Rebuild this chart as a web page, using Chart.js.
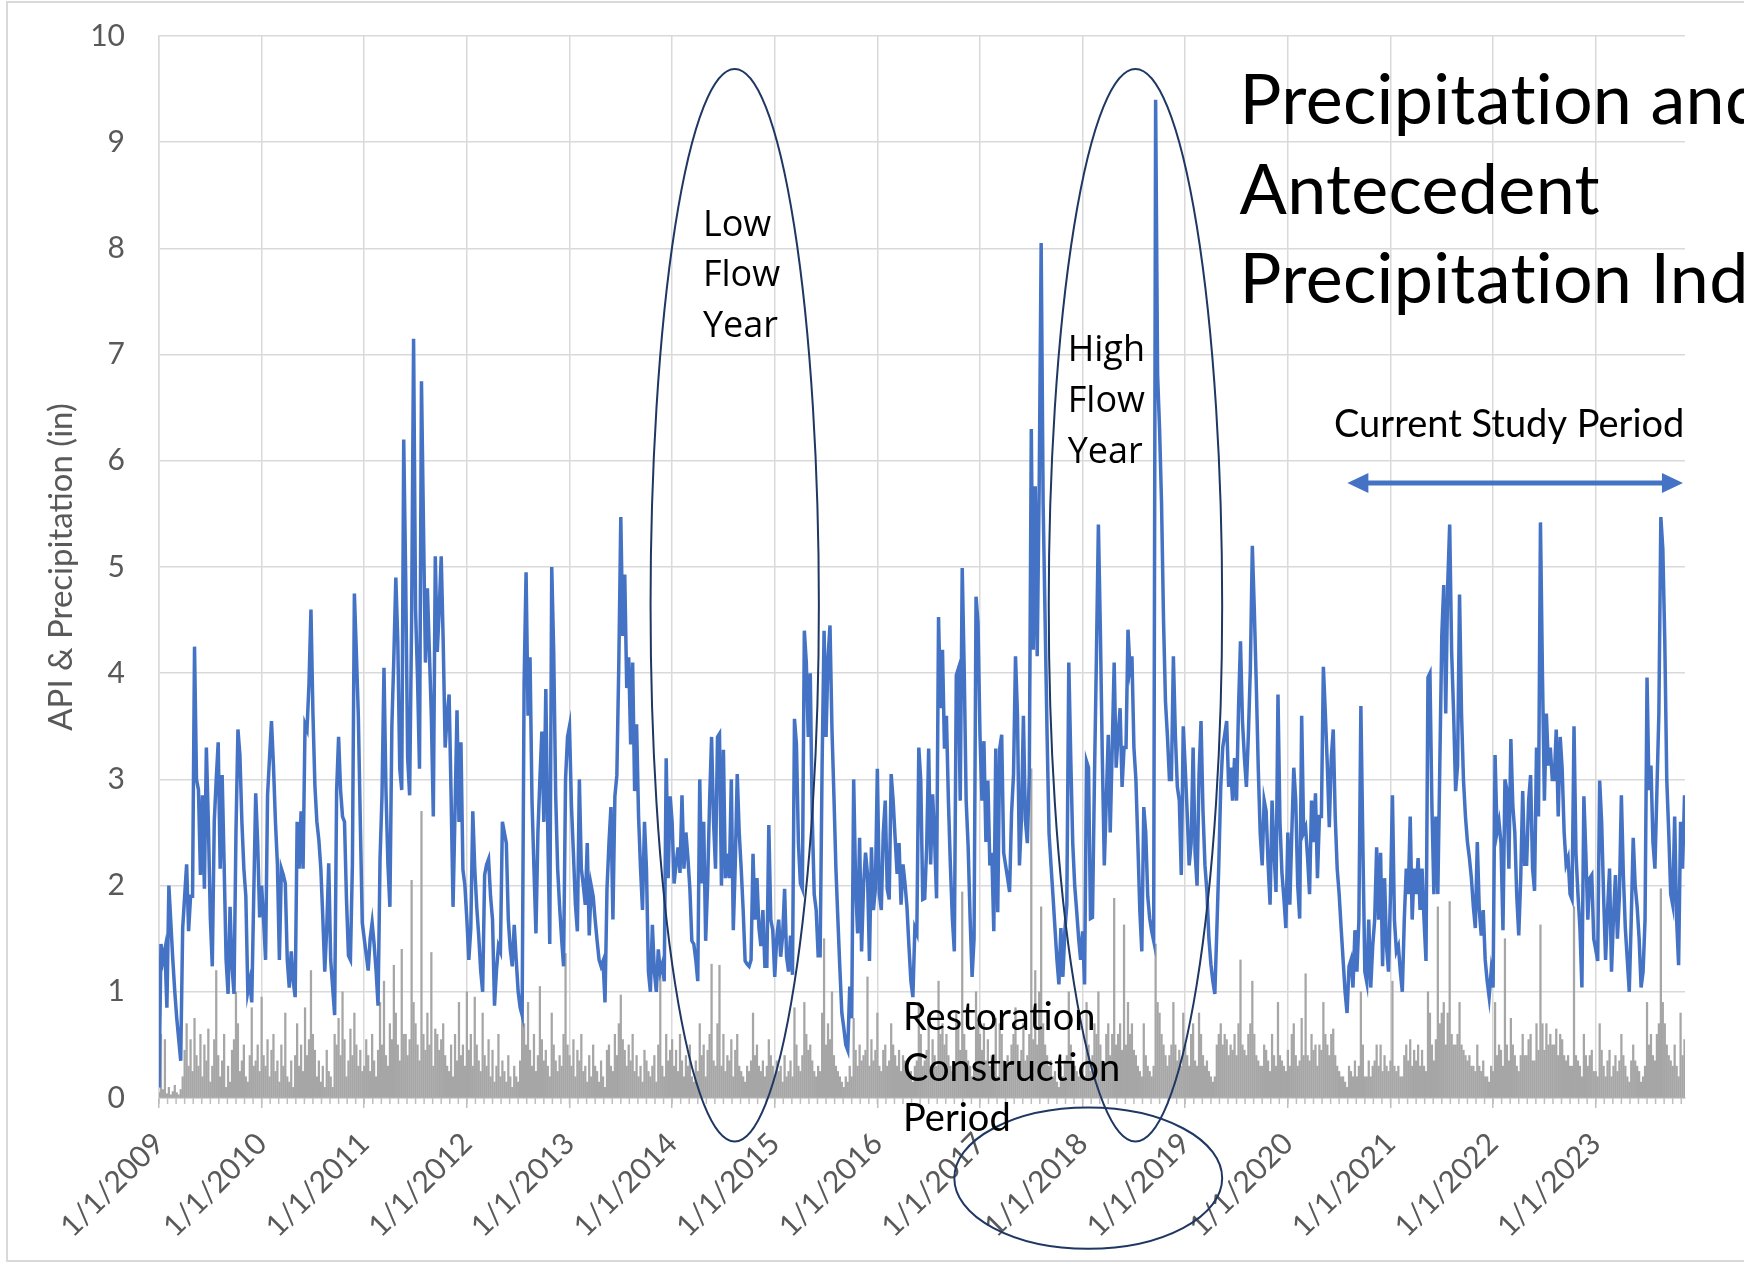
<!DOCTYPE html>
<html lang="en">
  <head>
    <meta charset="UTF-8" />
    <title>Precipitation and Antecedent Precipitation Index</title>
    <script src="https://cdn.jsdelivr.net/npm/chart.js"></script>
    <style>
      html,
      body {
        margin: 0;
        padding: 0;
        background: #fff;
      }
      #apiChart {
        display: block;
      }
    </style>
  </head>

  <body>
    <canvas id="apiChart" width="1744" height="1264"></canvas>

    <script>
      // Weekly values (52 per year, 2023 stops in November)
      const years = [2009, 2010, 2011, 2012, 2013, 2014, 2015, 2016, 2017, 2018, 2019, 2020, 2021, 2022, 2023];
      const yTicks = [0, 1, 2, 3, 4, 5, 6, 7, 8, 9, 10];

      // API (in)
      const api2009 = [0.1,1.45,1.3,1.4,0.85,2.0,1.65,1.3,1.0,0.75,0.55,0.35,1.6,1.9,2.2,1.57,1.9,1.9,4.25,3.0,2.9,2.1,2.85,1.97,3.3,2.6,1.7,1.24,2.6,3.0,3.35,2.16,3.04,2.2,1.3,0.98,1.8,1.24,0.98,2.5,3.47,3.23,2.6,2.16,1.9,1.0,1.1,0.9,1.9,2.87,2.4,1.7];
      const api2010 = [2.0,1.68,1.3,2.85,3.2,3.55,3.13,2.6,2.2,1.3,2.16,2.1,2.02,1.3,1.04,1.38,1.1,0.95,2.6,2.16,2.7,2.16,3.52,3.47,3.9,4.6,3.62,2.94,2.6,2.43,2.16,1.7,1.19,1.6,2.21,1.3,1.04,0.78,2.89,3.4,2.9,2.65,2.6,1.87,1.34,1.3,2.2,4.75,4.2,3.6,2.6,1.65];
      const api2011 = [1.5,1.35,1.2,1.5,1.65,1.45,1.2,0.87,2.25,2.85,4.05,2.9,2.2,1.8,3.5,4.15,4.9,4.3,3.1,2.9,6.2,4.9,3.2,2.85,4.5,7.15,4.6,3.95,3.1,6.75,5.4,4.1,4.8,4.2,3.6,2.65,5.1,4.2,4.6,5.1,4.3,3.3,3.6,3.8,2.85,1.8,2.7,3.65,2.6,3.35,2.15,2.0];
      const api2012 = [1.68,1.3,1.6,2.7,2.16,1.8,1.53,1.2,1.0,2.1,2.2,2.25,1.9,1.68,0.87,1.2,1.43,1.38,2.6,2.5,2.4,1.68,1.4,1.24,1.63,1.3,1.0,0.85,0.78,3.9,4.95,3.6,4.15,2.8,2.16,1.55,2.5,3.0,3.45,2.6,3.85,2.5,1.45,5.0,4.2,2.85,2.16,1.8,1.5,1.24,3.0,3.4];
      const api2013 = [3.5,2.75,2.3,1.82,1.57,3.0,2.16,2.0,1.82,2.4,1.53,2.0,1.9,1.68,1.48,1.3,1.24,1.29,0.9,1.97,2.4,2.74,1.68,2.84,3.04,4.1,5.47,4.35,4.93,3.86,4.15,3.33,4.1,2.89,3.52,2.65,2.16,1.77,2.6,2.16,1.19,1.0,1.63,1.19,1.0,1.4,1.19,1.26,1.1,3.2,2.07,2.84];
      const api2014 = [2.6,2.02,2.2,2.36,2.12,2.85,2.16,2.5,2.26,1.97,1.48,1.45,1.3,1.1,3.0,2.02,2.6,1.48,2.02,2.8,3.4,2.6,2.16,3.4,3.43,2.0,3.28,2.07,2.3,2.07,3.0,1.58,2.2,3.05,2.5,2.16,1.77,1.29,1.26,1.24,1.3,2.3,1.68,2.07,1.6,1.43,1.77,1.24,1.24,2.57,1.68,1.58];
      const api2015 = [1.14,1.5,1.68,1.33,1.53,1.97,1.33,1.19,1.53,1.16,3.57,3.33,2.4,2.02,1.97,4.4,4.1,3.4,4.0,2.65,1.92,1.77,1.34,1.34,3.13,4.4,3.4,4.15,4.45,3.47,2.84,2.16,1.68,1.22,0.8,0.66,0.5,0.45,1.05,0.75,3.0,2.0,1.55,2.45,1.38,2.0,2.31,2.11,1.29,2.36,1.77,1.97];
      const api2016 = [3.1,1.92,1.77,2.5,2.8,1.97,1.87,3.05,2.8,2.45,2.11,2.4,1.82,2.2,2.02,1.8,1.43,1.1,0.95,1.6,1.55,3.3,2.99,1.87,1.88,2.37,3.29,2.2,2.86,2.44,1.88,4.53,3.67,4.22,3.29,3.6,2.8,2.19,1.69,1.38,3.98,4.04,2.8,4.99,4.04,2.8,2.37,1.69,1.14,1.5,4.72,4.47];
      const api2017 = [3.42,2.8,3.36,2.41,2.99,2.19,2.31,1.57,3.29,1.75,3.29,3.42,2.31,2.19,2.07,1.94,2.68,3.05,4.16,3.6,2.19,2.62,3.6,2.62,2.4,3.05,6.3,4.22,5.76,4.16,5.76,8.05,5.6,4.5,3.42,2.49,2.19,1.9,1.6,1.3,1.07,1.6,1.14,1.57,1.82,4.1,3.2,2.4,2.0,1.76,1.5,1.3];
      const api2018 = [1.57,1.07,3.17,3.11,1.69,1.7,3.0,4.16,5.4,4.4,3.2,2.19,2.8,3.42,2.5,3.29,4.1,3.11,3.42,3.67,2.93,3.3,3.3,4.41,4.04,4.16,3.3,3.0,2.4,1.76,1.38,2.74,2.5,1.9,1.69,1.57,1.48,9.4,6.81,6.3,5.6,4.5,3.73,3.4,3.0,3.0,4.16,3.42,2.93,2.8,2.1,3.5];
      const api2019 = [3.11,2.68,2.19,2.4,3.3,2.31,2.0,3.05,3.55,2.7,2.19,1.94,1.5,1.26,1.1,0.98,1.57,2.19,2.93,3.3,3.42,3.55,2.93,3.11,2.8,3.2,2.8,3.67,4.3,3.55,3.2,2.93,3.42,4.04,5.2,4.6,3.9,3.11,2.49,2.19,2.8,2.7,2.2,1.82,2.8,2.31,1.94,3.8,2.6,2.12,1.88,1.6];
      const api2020 = [2.5,1.82,2.49,3.11,2.8,2.0,1.69,3.6,2.5,2.55,2.26,1.92,2.8,2.41,2.87,2.07,2.65,2.65,4.06,3.62,3.13,2.55,3.2,3.47,2.65,2.16,1.92,1.6,1.3,1.0,0.8,1.24,1.3,1.04,1.58,1.19,1.68,3.69,2.4,1.19,1.09,1.68,1.04,1.43,1.68,2.36,1.68,2.31,1.24,2.07,1.43,1.19];
      const api2021 = [1.92,2.85,1.68,1.38,1.43,1.19,1.0,1.68,2.16,1.92,2.65,1.68,2.16,1.92,2.26,1.77,2.16,1.68,1.29,3.96,4.0,2.75,1.92,2.65,1.92,3.13,4.35,4.83,3.62,4.83,5.4,4.2,3.62,2.89,3.13,4.74,3.62,2.99,2.65,2.41,2.26,2.07,1.8,1.6,2.41,1.77,1.53,1.77,1.3,1.1,0.95,1.19];
      const api2022 = [1.04,3.23,2.5,2.6,2.4,1.58,3.0,2.9,2.16,3.38,2.75,2.5,1.9,1.53,2.07,2.89,2.2,2.2,2.8,3.04,2.16,1.95,3.3,2.65,5.42,4.0,2.8,3.62,3.13,3.3,3.0,3.0,3.47,2.65,3.4,3.1,2.5,2.2,2.26,1.92,1.87,3.5,2.3,1.92,1.6,1.04,2.84,2.3,1.68,2.07,2.1,1.5];
      const api2023 = [1.4,1.29,2.99,2.6,1.9,1.3,1.77,2.16,1.19,1.7,2.1,1.5,1.9,2.85,2.1,1.6,1.3,1.0,1.68,2.45,2.0,1.8,1.5,1.04,1.19,1.68,3.96,2.9,3.13,2.41,2.16,2.89,3.62,5.47,5.17,4.3,3.0,2.5,1.92,1.82,2.65,1.68,1.25,2.6,2.16,2.85];

      // Precipitation (in)
      const rain2009 = [0.05,0.6,0.08,0.55,0.04,0.1,0.03,0.06,0.12,0.05,0.03,0.08,0.2,0.45,0.7,0.3,0.55,0.25,0.75,0.4,0.3,0.6,0.2,0.5,0.35,0.65,0.15,0.3,0.55,1.2,0.4,0.2,0.35,0.6,0.1,0.3,0.15,0.45,0.55,1.0,0.7,0.25,0.35,0.5,0.2,0.15,0.4,0.85,0.3,0.35,0.5,0.25];
      const rain2010 = [0.95,0.4,0.3,0.55,0.2,0.45,0.6,0.25,0.35,0.15,0.5,0.3,0.8,0.2,0.15,0.35,0.1,0.4,0.7,0.3,0.5,0.25,0.85,0.4,0.55,1.2,0.6,0.45,0.2,0.35,0.15,0.3,0.1,0.45,0.25,0.2,0.1,0.6,0.5,0.75,0.4,1.0,0.55,0.2,0.35,0.65,0.4,0.8,0.5,0.3,0.45,0.25];
      const rain2011 = [0.3,0.55,0.4,0.25,0.6,0.35,0.2,0.45,0.9,0.5,1.1,0.4,0.3,0.7,0.55,1.25,0.8,0.5,0.35,1.4,0.6,0.6,0.4,0.55,2.05,0.9,0.7,0.5,0.35,2.7,0.6,0.45,0.8,0.5,1.37,0.3,0.65,0.6,0.45,0.55,0.7,0.4,0.3,0.25,0.5,0.2,0.6,0.35,0.9,0.4,0.5,0.3];
      const rain2012 = [1.0,0.45,0.6,0.3,0.95,0.5,0.35,0.25,0.8,0.4,0.3,0.55,0.2,0.45,0.15,0.3,0.6,0.2,0.35,0.25,0.15,0.4,0.2,0.1,0.3,0.2,0.15,0.35,1.0,0.7,0.5,0.9,0.45,0.3,0.6,0.25,0.4,1.05,0.55,0.35,0.45,0.3,0.2,0.8,0.5,0.35,0.25,0.4,0.3,0.6,1.36,0.5];
      const rain2013 = [0.4,0.3,0.55,0.2,0.45,0.35,0.6,0.25,0.3,0.15,0.4,0.2,0.5,0.3,0.25,0.15,0.35,0.2,0.1,0.45,0.5,0.3,0.25,0.6,0.4,0.7,0.97,0.55,0.45,0.3,0.5,0.35,0.6,0.25,0.4,0.2,0.3,0.15,0.45,0.35,0.25,0.2,0.3,0.4,0.15,0.5,1.24,0.3,0.2,0.6,0.35,0.45];
      const rain2014 = [0.55,0.3,0.45,0.25,0.6,0.35,0.2,0.4,0.3,0.5,0.2,0.15,0.35,0.25,0.7,0.4,0.5,0.2,0.45,0.6,1.26,0.35,0.3,0.7,1.25,0.3,0.6,0.25,0.4,0.35,0.55,0.2,0.45,0.6,0.3,0.25,0.2,0.15,0.3,0.25,0.35,0.8,0.4,0.5,0.3,0.25,0.35,0.2,0.3,0.55,0.4,0.3];
      const rain2015 = [0.2,0.35,0.25,0.3,0.15,0.4,0.2,0.25,0.35,0.2,0.85,0.5,0.3,0.25,0.4,0.9,0.6,0.45,0.5,0.35,0.25,0.2,0.3,0.25,0.8,1.5,0.5,0.7,0.55,1.0,0.4,0.3,0.25,0.2,0.15,0.1,0.2,0.15,0.3,0.2,0.75,0.45,0.3,0.5,0.35,0.4,0.45,1.14,0.3,0.55,0.35,0.45];
      const rain2016 = [0.8,0.3,0.25,0.45,0.5,0.3,0.35,0.7,0.5,0.4,0.3,0.45,0.25,0.4,0.35,0.3,0.2,0.25,0.15,0.3,0.35,0.9,0.6,0.3,0.35,0.45,0.7,0.3,0.55,0.4,0.3,1.1,0.6,0.7,0.5,0.6,0.4,0.3,0.25,0.2,0.8,0.7,0.45,1.94,0.6,0.45,0.35,0.3,0.2,0.3,1.0,0.7];
      const rain2017 = [0.6,0.45,0.7,0.35,0.55,0.3,0.4,0.25,0.75,0.2,0.7,0.6,0.35,0.3,0.4,0.3,0.5,0.6,0.85,0.5,0.3,0.45,0.7,0.35,0.4,0.6,3.1,0.55,1.2,0.5,1.0,1.8,0.7,0.5,0.4,0.3,0.35,0.2,0.25,0.15,0.1,0.3,0.2,0.35,0.4,1.0,0.5,0.35,0.3,0.25,0.2,0.2];
      const rain2018 = [0.3,0.2,0.9,0.5,0.25,0.4,0.7,0.6,1.0,0.5,0.35,0.3,0.6,0.7,0.4,0.6,1.88,0.5,0.6,0.7,0.45,1.63,0.5,0.9,0.6,0.7,0.45,0.4,0.3,0.25,0.2,0.7,0.4,0.3,0.25,0.2,0.3,1.45,0.9,0.8,0.6,0.5,0.4,0.3,0.4,0.5,0.9,0.5,0.35,0.45,0.3,0.8];
      const rain2019 = [0.5,0.4,0.3,0.6,0.7,0.35,0.3,0.8,0.6,0.4,0.3,0.35,0.25,0.2,0.15,0.2,0.5,0.6,0.7,0.5,0.6,0.55,0.4,0.5,0.45,0.6,0.4,0.7,1.3,0.5,0.45,0.4,0.6,0.7,1.1,0.6,0.4,0.35,0.3,0.3,0.5,0.45,0.35,0.25,0.6,0.4,0.3,0.9,0.4,0.35,0.3,0.25];
      const rain2020 = [0.45,0.3,0.6,0.7,0.4,0.3,0.35,0.75,0.4,1.17,0.4,0.35,0.6,0.45,0.5,0.3,0.5,0.45,0.9,0.6,0.5,0.4,0.6,0.65,0.4,0.3,0.25,0.2,0.2,0.15,0.1,0.3,0.25,0.2,0.35,0.2,0.3,1.0,0.5,0.2,0.2,0.35,0.2,0.3,0.35,0.5,0.3,0.5,0.25,0.4,0.3,0.25];
      const rain2021 = [0.35,1.1,0.3,0.25,0.3,0.2,0.2,0.4,0.5,0.35,0.55,0.3,0.45,0.35,0.5,0.3,0.45,0.3,0.25,1.0,0.8,0.5,0.35,0.55,1.8,0.7,0.8,0.9,0.5,0.8,1.85,0.6,0.5,0.5,0.6,0.9,0.5,0.45,0.4,0.35,0.4,0.3,0.3,0.25,0.5,0.3,0.25,0.35,0.2,0.2,0.15,0.3];
      const rain2022 = [0.25,0.9,0.4,0.5,0.45,0.3,1.5,0.5,0.35,0.75,0.5,0.4,0.3,0.25,0.4,0.6,0.4,0.4,0.55,0.6,0.35,0.35,0.7,0.45,1.63,0.7,0.45,0.7,0.5,0.6,0.5,0.5,0.65,0.4,0.6,0.55,0.4,0.35,0.4,0.3,0.3,1.8,0.4,0.35,0.3,0.2,0.6,0.4,0.3,0.4,0.45,0.25];
      const rain2023 = [0.25,0.2,0.7,0.45,0.3,0.2,0.35,0.45,0.2,0.3,0.4,0.25,0.35,0.6,0.4,0.3,0.2,0.15,0.35,0.5,0.35,0.3,0.25,0.15,0.2,0.3,0.9,0.5,0.6,0.4,0.35,0.6,0.7,1.97,0.9,0.7,0.5,0.4,0.35,0.3,0.5,0.3,0.2,0.8,0.4,0.55];

      const apiByYear = [api2009, api2010, api2011, api2012, api2013, api2014, api2015, api2016, api2017, api2018, api2019, api2020, api2021, api2022, api2023];
      const rainByYear = [rain2009, rain2010, rain2011, rain2012, rain2013, rain2014, rain2015, rain2016, rain2017, rain2018, rain2019, rain2020, rain2021, rain2022, rain2023];
      const lastDay = 2023.87;
      const plotTop = 36; // where the "10" grid line sits

      // one point per week
      function toPoints(rows) {
        const pts = [];
        rows.forEach((vals, i) => {
          vals.forEach((v, k) => pts.push({ x: years[i] + k / 52, y: v }));
        });
        return pts;
      }

      // white page with the thin grey frame
      const frame = {
        id: "frame",
        beforeDraw(chart) {
          const ctx = chart.ctx;
          ctx.save();
          ctx.fillStyle = "#fff";
          ctx.fillRect(0, 0, chart.width, chart.height);
          ctx.strokeStyle = "#d9d9d9";
          ctx.lineWidth = 2;
          ctx.beginPath();
          ctx.moveTo(chart.width, 2);
          ctx.lineTo(7, 2);
          ctx.lineTo(7, chart.height - 3);
          ctx.lineTo(chart.width, chart.height - 3);
          ctx.stroke();
          ctx.restore();
        },
      };

      // layout keeps adding room above the plot, pull the top back up
      const pinTop = {
        id: "pinTop",
        afterLayout(chart) {
          const ys = chart.scales.y;
          const area = chart.chartArea;
          ys.top = plotTop;
          ys.height = ys.bottom - plotTop;
          area.top = plotTop;
          area.height = area.bottom - plotTop;
          ys.configure();
        },
      };

      // small month ticks under the date axis
      const monthTicks = {
        id: "monthTicks",
        afterDraw(chart) {
          const { ctx, chartArea } = chart;
          const xs = chart.scales.x;
          ctx.save();
          ctx.strokeStyle = "#bfbfbf";
          ctx.lineWidth = 1.5;
          ctx.beginPath();
          for (let m = 0; m < years.length * 12; m++) {
            const px = xs.getPixelForValue(years[0] + m / 12);
            if (px > chartArea.right) break;
            ctx.moveTo(px, chartArea.bottom);
            ctx.lineTo(px, chartArea.bottom + 6);
          }
          ctx.stroke();
          ctx.restore();
        },
      };

      // circles, notes, arrow and the big title
      const notes = {
        id: "notes",
        afterDraw(chart) {
          const { ctx } = chart;
          const xs = chart.scales.x;
          const ys = chart.scales.y;
          const px = (v) => xs.getPixelForValue(v);
          const py = (v) => ys.getPixelForValue(v);

          const ring = (x0, x1, y0, y1) => {
            const l = px(x0), r = px(x1), t = py(y1), b = py(y0);
            ctx.beginPath();
            ctx.ellipse((l + r) / 2, (t + b) / 2, (r - l) / 2, (b - t) / 2, 0, 0, Math.PI * 2);
            ctx.stroke();
          };
          const lines = (txt, x, yVals, font) => {
            ctx.font = font;
            txt.forEach((s, i) => ctx.fillText(s, px(x), py(yVals[i])));
          };

          ctx.save();
          ctx.strokeStyle = "#1f3763";
          ctx.lineWidth = 2;
          ring(2013.79, 2015.43, -0.41, 9.69);
          ring(2017.67, 2019.36, -0.41, 9.69);
          ring(2016.75, 2019.36, -1.42, -0.09);

          ctx.fillStyle = "#000";
          ctx.textAlign = "left";
          ctx.textBaseline = "middle";
          lines(["Low", "Flow", "Year"], 2014.3, [8.21, 7.74, 7.26], "36px 'Open Sans'");
          lines(["High", "Flow", "Year"], 2017.855, [7.04, 6.56, 6.08], "36px 'Open Sans'");
          lines(["Restoration", "Construction", "Period"], 2016.25, [0.76, 0.28, -0.2], "38px Lato");
          lines(["Current Study Period"], 2020.45, [6.34], "38px Lato");
          // a touch of letter spacing stops Lato from joining "ti"
          ctx.letterSpacing = "0.3px";
          lines(
            ["Precipitation and", "Antecedent", "Precipitation Index"],
            2019.53,
            [9.38, 8.54, 7.7],
            "70px Lato"
          );
          ctx.letterSpacing = "0px";

          // double headed arrow
          const ax0 = px(2020.58), ax1 = px(2023.85), ay = py(5.79);
          ctx.strokeStyle = "#4472c4";
          ctx.fillStyle = "#4472c4";
          ctx.lineWidth = 5;
          ctx.beginPath();
          ctx.moveTo(ax0 + 18, ay);
          ctx.lineTo(ax1 - 18, ay);
          ctx.stroke();
          ctx.beginPath();
          ctx.moveTo(ax0, ay);
          ctx.lineTo(ax0 + 21, ay - 10);
          ctx.lineTo(ax0 + 21, ay + 10);
          ctx.closePath();
          ctx.moveTo(ax1, ay);
          ctx.lineTo(ax1 - 21, ay - 10);
          ctx.lineTo(ax1 - 21, ay + 10);
          ctx.closePath();
          ctx.fill();
          ctx.restore();
        },
      };

      const tickFont = { family: "Lato", size: 30 };

      new Chart(document.getElementById("apiChart"), {
        type: "line",
        data: {
          datasets: [
            {
              label: "API",
              data: toPoints(apiByYear),
              borderColor: "#4472c4",
              borderWidth: 3.5,
              pointRadius: 0,
              tension: 0,
              order: 0,
            },
            {
              type: "bar",
              label: "Precipitation",
              data: toPoints(rainByYear),
              backgroundColor: "#a6a6a6",
              barThickness: 1.6,
              order: 1,
            },
          ],
        },
        options: {
          responsive: false,
          animation: false,
          layout: { autoPadding: false, padding: { left: 0, right: 59, top: 36, bottom: 0 } },
          plugins: {
            legend: { display: false },
            tooltip: { enabled: false },
          },
          scales: {
            x: {
              type: "linear",
              min: years[0],
              max: lastDay,
              offset: false,
              afterFit: (s) => { s.height = 166; },
              afterBuildTicks: (s) => { s.ticks = years.map((v) => ({ value: v })); },
              grid: { color: "#d9d9d9", lineWidth: 1.5, offset: false, tickLength: 10, tickColor: "#bfbfbf" },
              border: { color: "#bfbfbf", width: 1.5 },
              ticks: {
                autoSkip: false,
                maxRotation: 45,
                minRotation: 45,
                padding: 18,
                color: "#595959",
                font: tickFont,
                callback: (v) => "1/1/" + v,
              },
            },
            y: {
              min: 0,
              max: 10,
              afterFit: (s) => { s.width = 159; },
              afterBuildTicks: (s) => { s.ticks = yTicks.map((v) => ({ value: v })); },
              grid: { color: "#d9d9d9", lineWidth: 1.5, drawTicks: false },
              border: { color: "#d9d9d9", width: 1.5 },
              ticks: { padding: 34, color: "#595959", font: tickFont },
              title: {
                display: true,
                text: "API & Precipitation (in)",
                color: "#595959",
                font: { family: "Lato", size: 33 },
                padding: { top: 42, bottom: 0 },
              },
            },
          },
        },
        plugins: [frame, pinTop, monthTicks, notes],
      });
    </script>
  </body>
</html>
